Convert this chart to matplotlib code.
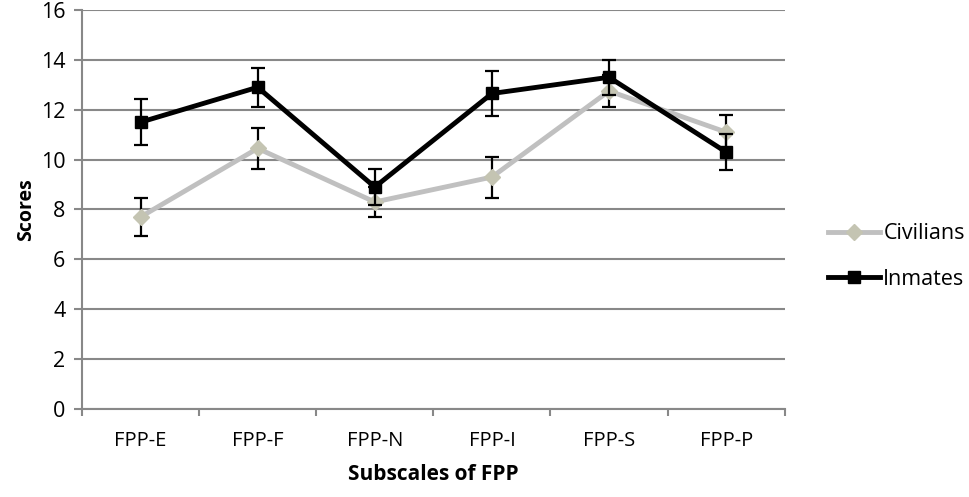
import matplotlib.pyplot as plt
import numpy as np

plt.rcParams['font.family'] = ['Open Sans', 'DejaVu Sans']

subscales = ['FPP-E', 'FPP-F', 'FPP-N', 'FPP-I', 'FPP-S', 'FPP-P']
civilians = [7.7, 10.45, 8.3, 9.3, 12.75, 11.1]
civilians_err = [0.77, 0.83, 0.62, 0.82, 0.65, 0.69]
inmates = [11.5, 12.9, 8.9, 12.65, 13.3, 10.3]
inmates_err = [0.93, 0.78, 0.74, 0.91, 0.71, 0.71]

x = np.arange(len(subscales))

fig = plt.figure(figsize=(9.7, 4.97), dpi=100)
ax = fig.add_axes([0.0845, 0.177, 0.7245, 0.803])

ax.errorbar(x, civilians, yerr=civilians_err, color='#c0c0c0', lw=3.5,
            marker='D', ms=8, mfc='#c4c4b2', mec='#c4c4b2',
            ecolor='black', elinewidth=1.6, capsize=5, capthick=1.6,
            label='Civilians', zorder=3)
ax.errorbar(x, inmates, yerr=inmates_err, color='black', lw=3.5,
            marker='s', ms=9, mfc='black', mec='black',
            ecolor='black', elinewidth=1.6, capsize=5, capthick=1.6,
            label='Inmates', zorder=4)

ax.set_xlim(-0.5, len(subscales) - 0.5)
ax.set_ylim(0, 16)
ax.set_yticks(np.arange(0, 17, 2))
ax.set_xticks(x)
ax.set_xticklabels(subscales)
ax.set_xticks(np.arange(-0.5, len(subscales)), minor=True)
ax.tick_params(axis='x', which='major', length=0, pad=16, labelsize=14.5)
ax.tick_params(axis='x', which='minor', length=5, width=1.5, color='#888888', direction='out')
ax.tick_params(axis='y', length=6, width=1.5, color='#888888', labelsize=15.5, pad=6)

ax.grid(axis='y', color='#888888', lw=1.5)
ax.set_axisbelow(True)
for side in ['top', 'right']:
    ax.spines[side].set_visible(False)
for side in ['left', 'bottom']:
    ax.spines[side].set_color('#888888')
    ax.spines[side].set_linewidth(1.5)

ax.set_ylabel('Scores', fontsize=14, fontweight='bold', labelpad=3)
ax.set_xlabel('Subscales of FPP', fontsize=15, fontweight='bold', labelpad=9)

handles, labels = ax.get_legend_handles_labels()
handles = [h[0] for h in handles]
fig.legend(handles, labels, loc='center left', bbox_to_anchor=(0.834, 0.484),
           frameon=False, fontsize=15.5, handlelength=2.4, handletextpad=0.15,
           labelspacing=1.15)

fig.savefig('out.png', dpi=100)
